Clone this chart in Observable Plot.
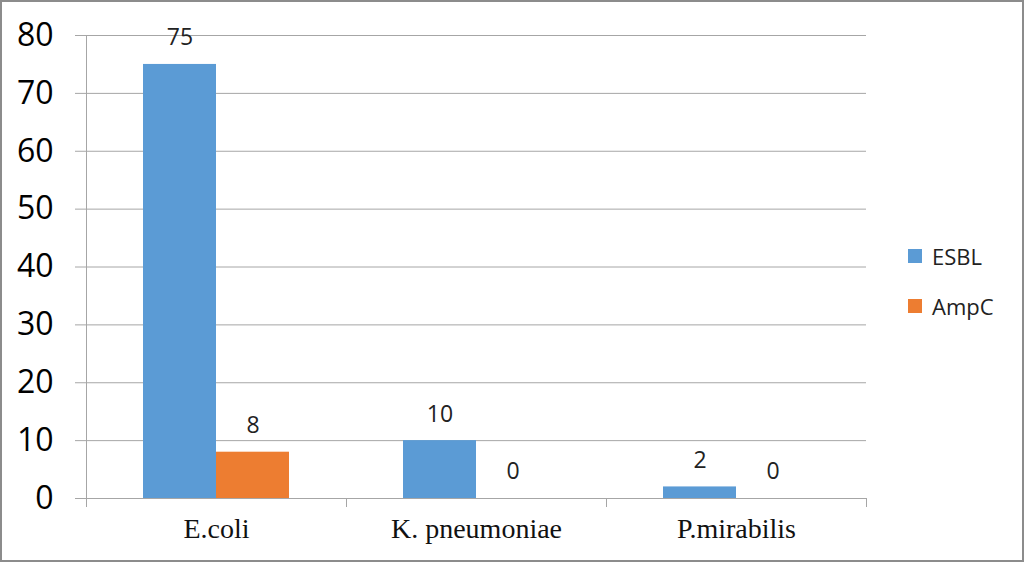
<!DOCTYPE html>
<html><head><meta charset="utf-8">
<script src="https://cdn.jsdelivr.net/npm/d3@7"></script>
<script src="https://cdn.jsdelivr.net/npm/@observablehq/plot@0.6"></script>
<style>
html,body{margin:0;padding:0;background:#fff;}
#wrap{position:relative;width:1024px;height:562px;overflow:hidden;background:#fff;}
#border{position:absolute;left:0;top:0;right:0;bottom:0;border:2px solid #8c8c8c;pointer-events:none;}
#chart{position:absolute;left:0;top:0;}
.item{position:absolute;left:908px;height:32px;display:flex;align-items:center;font-family:"Open Sans",sans-serif;font-size:22px;color:#222;}
.sw{width:14px;height:14px;margin-right:10px;}
</style>
</head><body>
<div id="wrap"><div id="chart"></div><div id="legend"></div><div id="border"></div></div>
<script>
const categories = ["E.coli", "K. pneumoniae", "P.mirabilis"];
const series = ["ESBL", "AmpC"];
const esbl = [75, 10, 2];
const ampc = [8, 0, 0];
const yTicks = [0, 10, 20, 30, 40, 50, 60, 70, 80];
const colors = ["#5b9bd5", "#ed7d31"];

const data = categories.flatMap((c, i) => [
  {category: c, series: "ESBL", value: esbl[i]},
  {category: c, series: "AmpC", value: ampc[i]}
]);

const grid = "#a6a6a6";
const plot = Plot.plot({
  width: 1024, height: 562,
  marginLeft: 86, marginRight: 158, marginTop: 35, marginBottom: 64,
  style: {fontFamily: "'Open Sans', sans-serif", background: "transparent"},
  fx: {domain: categories, padding: 0, label: null, axis: null},
  x: {domain: series, paddingInner: 0, paddingOuter: 0.757, axis: null},
  y: {domain: [0, 80], label: null},
  color: {domain: series, range: colors},
  marks: [
    Plot.gridY(yTicks, {stroke: grid, strokeOpacity: 1}),
    Plot.barY(data, {fx: "category", x: "series", y: "value", fill: "series"}),
    Plot.text(data, {fx: "category", x: "series", y: "value", text: d => String(d.value), dy: -26.5, fontSize: 23, fill: "#222"}),
    Plot.axisY(yTicks, {tickSize: 11, tickPadding: 22, fontSize: 32, fill: "#000", stroke: grid, label: null}),
    Plot.axisFx({anchor: "bottom", tickSize: 0, tickPadding: 20, fontSize: 28, fontFamily: "'Liberation Serif', serif", fill: "#111", label: null})
  ]
});
document.getElementById("chart").appendChild(plot);

// axis line and category boundary ticks from the plot's own scales
const fx = plot.scale("fx"), y = plot.scale("y");
const bounds = categories.map(c => fx.apply(c)).concat([fx.apply(categories[categories.length - 1]) + fx.bandwidth]);
const g = d3.select(plot).append("g").attr("stroke", grid).attr("stroke-width", 1);
const y0 = y.apply(0), yTop = y.apply(80);
g.append("line").attr("x1", bounds[0] + 0.5).attr("x2", bounds[0] + 0.5).attr("y1", yTop).attr("y2", y0 + 9);
bounds.slice(1).forEach(b => {
  g.append("line").attr("x1", b + 0.5).attr("x2", b + 0.5).attr("y1", y0).attr("y2", y0 + 9);
});

// legend
const leg = document.getElementById("legend");
series.forEach((s, i) => {
  const d = document.createElement("div");
  d.className = "item";
  d.style.top = (240 + i * 50) + "px";
  d.innerHTML = `<span class="sw" style="background:${colors[i]}"></span><span>${s}</span>`;
  leg.appendChild(d);
});
</script>
</body></html>
